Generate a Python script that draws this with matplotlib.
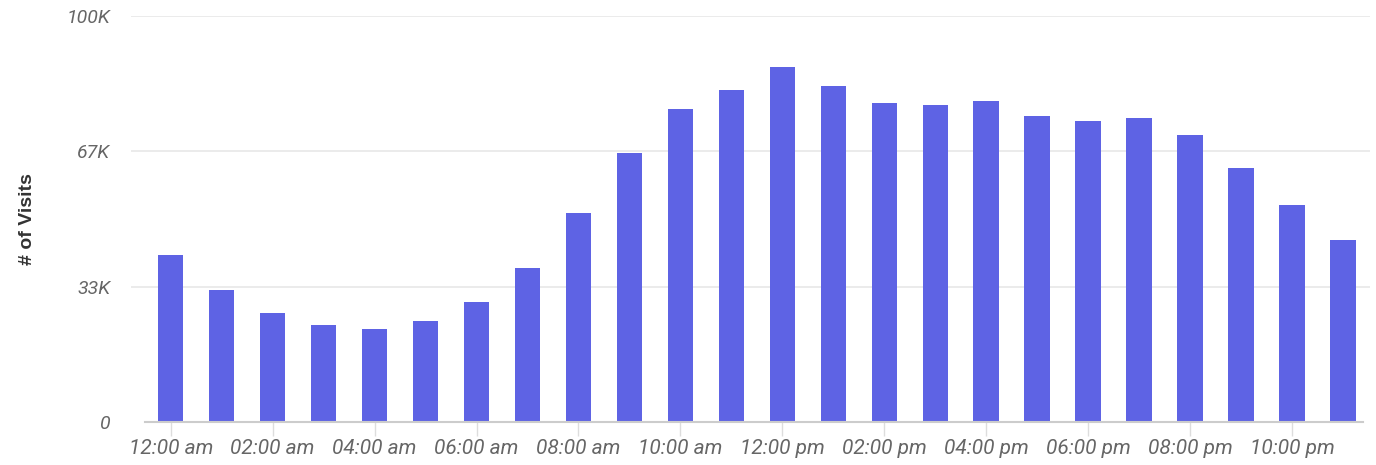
import matplotlib.pyplot as plt
import numpy as np

# hourly visit counts
hours = list(range(24))
visits = [41100, 32500, 26800, 23900, 22900, 24900, 29600, 37900,
          51500, 66300, 77100, 81800, 87400, 82800, 78600, 78100,
          79100, 75400, 74100, 74900, 70700, 62600, 53400, 44800]
hour_labels = ['12:00 am', '02:00 am', '04:00 am', '06:00 am', '08:00 am', '10:00 am',
               '12:00 pm', '02:00 pm', '04:00 pm', '06:00 pm', '08:00 pm', '10:00 pm']
y_ticks = [0, 100000 / 3, 200000 / 3, 100000]
y_tick_labels = ['0', '33K', '67K', '100K']

bar_color = '#5e63e4'

fig = plt.figure(figsize=(13.76, 4.65), dpi=100)
ax = fig.add_axes([131 / 1376, 43 / 465, 1239 / 1376, 406 / 465])

x = np.array(hours)
ax.bar(x, visits, width=0.5, color=bar_color, zorder=3)

ax.set_xlim(-0.78, 23.53)
ax.set_ylim(0, 100000)

# gridlines
for yv in y_ticks[1:]:
    ax.axhline(yv, color='#e8e8e8', linewidth=1.2, zorder=1)
# baseline
ax.plot([-0.5, 23.4], [0, 0], color='#cccccc', linewidth=1.5, zorder=4, clip_on=False)

for s in ax.spines.values():
    s.set_visible(False)

ax.set_yticks(y_ticks)
ax.set_yticklabels(y_tick_labels, fontstyle='italic', color='#666666', fontsize=14,
                   family='Roboto')
ax.tick_params(axis='y', length=0, pad=15)

ax.set_xticks(x[::2])
ax.set_xticklabels(hour_labels, fontstyle='italic', color='#666666', fontsize=15,
                   family='Roboto')
ax.tick_params(axis='x', length=10, color='#dddddd', width=1, pad=2)

ax.set_ylabel('# of Visits', fontsize=14, fontweight='bold', color='#333333',
              family='Liberation Sans', labelpad=22)

fig.savefig('out.png', dpi=100)
